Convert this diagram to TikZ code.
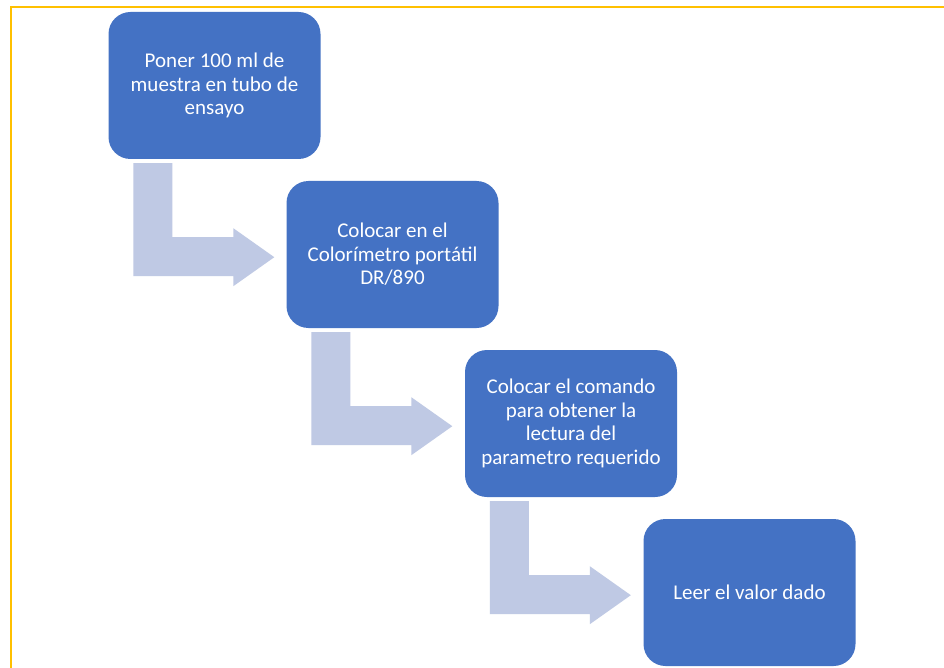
\documentclass[tikz,border=0pt]{standalone}
\usepackage{fontspec}
\setmainfont{Carlito}
\definecolor{stepblue}{HTML}{4472C4}
\definecolor{flowpale}{RGB}{191,201,228}
\definecolor{frameyellow}{HTML}{FFC000}
\begin{document}
\begin{tikzpicture}[x=1pt,y=-1pt,
  stepbox/.style={draw=none, fill=stepblue, rounded corners=22pt,
    minimum width=212pt, minimum height=147pt, inner sep=0pt,
    text=white, align=center,
    font=\fontsize{21}{23.5}\selectfont},
  flowarrow/.style={fill=flowpale, draw=none}]
\useasboundingbox (0,0) rectangle (944,668);
\fill[white] (0,0) rectangle (944,668);

% page frame (only the top and left edges fall inside)
\draw[frameyellow, line width=2pt] (10.5,680) -- (10.5,6.8) -- (960,6.8);

% process steps
\node[stepbox] (s1) at (214.5,85.5) {Poner 100 ml de\\muestra en tubo de\\ensayo};
\node[stepbox] (s2) at (392.5,254.5) {Colocar en el\\Colorímetro portátil\\DR/890};
\node[stepbox] (s3) at (571,423.5) {Colocar el comando\\para obtener la\\lectura del\\parametro requerido};
\node[stepbox] (s4) at (749.5,592.5) {Leer el valor dado};

% bent block arrows from each step to the next
\foreach \a in {s1,s2,s3}{
  \begin{scope}[shift={(\a.south west)}]
    \fill[flowarrow] (25,4) -- (64,4) -- (64,78) -- (125,78) -- (125,69)
      -- (166,98) -- (125,127) -- (125,117) -- (25,117) -- cycle;
  \end{scope}
}
\end{tikzpicture}
\end{document}
